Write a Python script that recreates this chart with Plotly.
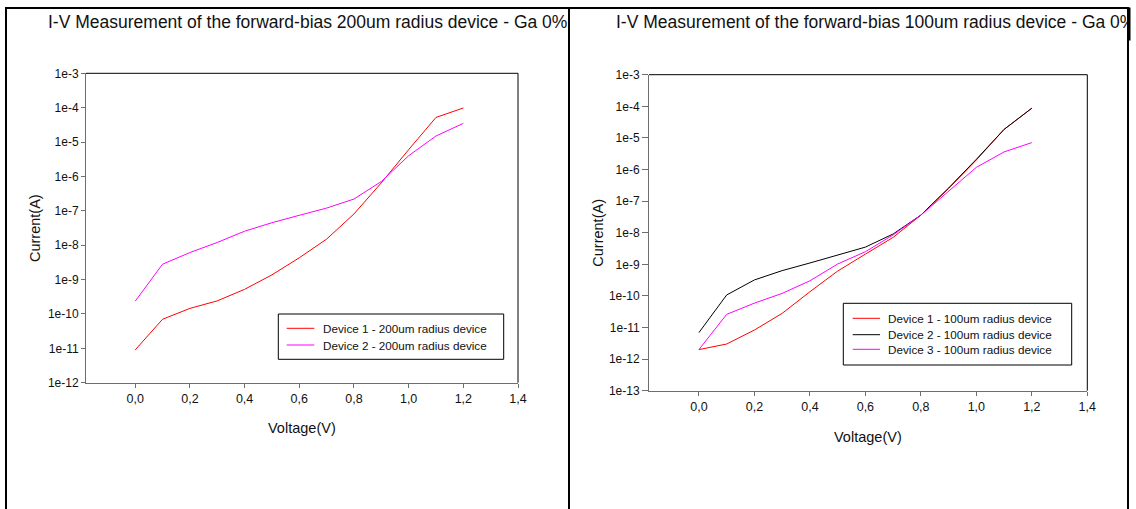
import plotly.graph_objects as go

W, H = 1136, 509

# ---------------- data ----------------
voltage = [0.0, 0.1, 0.2, 0.3, 0.4, 0.5, 0.6, 0.7, 0.8, 0.9, 1.0, 1.1, 1.2]

# 200um radius devices (left chart)
dev1_200 = [9.0e-12, 7.0e-11, 1.45e-10, 2.4e-10, 5.2e-10, 1.37e-9, 4.3e-9, 1.5e-8, 8.1e-8, 6.5e-7, 6.0e-6, 5.2e-5, 9.8e-5]
dev2_200 = [2.35e-10, 2.8e-9, 6.1e-9, 1.2e-8, 2.55e-8, 4.5e-8, 7.4e-8, 1.2e-7, 2.2e-7, 7.1e-7, 4.0e-6, 1.5e-5, 3.5e-5]

# 100um radius devices (right chart)
dev1_100 = [2.0e-12, 3.0e-12, 8.3e-12, 2.8e-11, 1.35e-10, 6.1e-10, 2.1e-9, 7.1e-9, 3.6e-8, 2.5e-7, 2.0e-6, 1.86e-5, 8.7e-5]
dev2_100 = [6.9e-12, 1.07e-10, 3.2e-10, 6.3e-10, 1.1e-9, 1.95e-9, 3.5e-9, 9.1e-9, 3.6e-8, 2.6e-7, 2.1e-6, 1.86e-5, 8.7e-5]
dev3_100 = [2.0e-12, 2.6e-11, 5.9e-11, 1.2e-10, 3.0e-10, 1.02e-9, 2.5e-9, 8.5e-9, 3.6e-8, 2.1e-7, 1.17e-6, 3.6e-6, 7.1e-6]

x_ticks = [0.0, 0.2, 0.4, 0.6, 0.8, 1.0, 1.2, 1.4]
x_ticktext = ["0,0", "0,2", "0,4", "0,6", "0,8", "1,0", "1,2", "1,4"]
left_y_exp = list(range(-12, -2))
right_y_exp = list(range(-13, -2))

titles = ["I-V Measurement of the forward-bias 200um radius device - Ga 0%",
          "I-V Measurement of the forward-bias 100um radius device - Ga 0%"]
left_names = ["Device 1 - 200um radius device", "Device 2 - 200um radius device"]
right_names = ["Device 1 - 100um radius device", "Device 2 - 100um radius device",
               "Device 3 - 100um radius device"]
RED, MAG, BLK = "#ff0000", "#ff00ff", "#000000"

FONT = "Arial, Liberation Sans, sans-serif"
AXC = "#6e6e6e"


def px(x):
    return x / W


def py(y):
    return 1 - y / H


fig = go.Figure()

left_series = [(dev1_200, RED, left_names[0]), (dev2_200, MAG, left_names[1])]
right_series = [(dev1_100, RED, right_names[0]), (dev2_100, BLK, right_names[1]),
                (dev3_100, MAG, right_names[2])]

for vals, col, name in left_series:
    fig.add_trace(go.Scatter(x=voltage, y=vals, mode="lines", name=name,
                             line=dict(color=col, width=1), xaxis="x", yaxis="y",
                             showlegend=False))
for vals, col, name in right_series:
    fig.add_trace(go.Scatter(x=voltage, y=vals, mode="lines", name=name,
                             line=dict(color=col, width=1), xaxis="x2", yaxis="y2",
                             showlegend=False))


def xaxis_cfg(domain, anchor):
    return dict(domain=domain, anchor=anchor, range=[-0.18, 1.4], tickvals=x_ticks,
                ticktext=x_ticktext, ticks="outside", ticklen=4, tickcolor=AXC,
                showline=True, linecolor=AXC, linewidth=1, showgrid=False,
                zeroline=False, automargin=False,
                tickfont=dict(family=FONT, size=12.5, color="#111"))


def yaxis_cfg(domain, anchor, exps, ticklen):
    return dict(domain=domain, anchor=anchor, type="log", range=[exps[0], exps[-1]],
                tickvals=[10.0 ** e for e in exps], ticktext=["1e%d" % e for e in exps],
                ticks="outside", ticklen=ticklen, tickcolor=AXC, showline=True,
                linecolor=AXC, linewidth=1, showgrid=False, zeroline=False,
                automargin=False, tickfont=dict(family=FONT, size=12, color="#111"))


L = dict(x0=86, x1=518, y0=73.3, y1=382.7)
R = dict(x0=649, x1=1087.3, y0=74.7, y1=390.7)

fig.update_layout(
    width=W, height=H, margin=dict(l=0, r=0, t=0, b=0),
    paper_bgcolor="white", plot_bgcolor="white", showlegend=False,
    xaxis=xaxis_cfg([px(L["x0"]), px(L["x1"])], "y"),
    yaxis=yaxis_cfg([py(L["y1"]), py(L["y0"])], "x", left_y_exp, 4),
    xaxis2=xaxis_cfg([px(R["x0"]), px(R["x1"])], "y2"),
    yaxis2=yaxis_cfg([py(R["y1"]), py(R["y0"])], "x2", right_y_exp, 6),
)

shapes = []
# black top & right frame of each plot area
for xr, yr in (("x domain", "y domain"), ("x2 domain", "y2 domain")):
    shapes.append(dict(type="line", xref=xr, yref=yr, x0=0, x1=1, y0=1, y1=1,
                       line=dict(color="black", width=1)))
    shapes.append(dict(type="line", xref=xr, yref=yr, x0=1, x1=1, y0=0, y1=1,
                       line=dict(color="black", width=1)))

# outer panel borders
for xb in (6, 569, 1128):
    shapes.append(dict(type="line", xref="paper", yref="paper", x0=px(xb), x1=px(xb),
                       y0=py(7), y1=py(H + 2), line=dict(color="black", width=2)))
shapes.append(dict(type="line", xref="paper", yref="paper", x0=px(5), x1=px(1129),
                   y0=py(8), y1=py(8), line=dict(color="black", width=2)))

annotations = []


def legend(box, sample_x, text_x, rows, items):
    shapes.append(dict(type="rect", xref="paper", yref="paper", x0=px(box[0]), x1=px(box[1]),
                       y0=py(box[3]), y1=py(box[2]), line=dict(color="black", width=1),
                       fillcolor="white"))
    for yy, (vals, col, name) in zip(rows, items):
        shapes.append(dict(type="line", xref="paper", yref="paper", x0=px(sample_x[0]),
                           x1=px(sample_x[1]), y0=py(yy), y1=py(yy),
                           line=dict(color=col, width=1)))
        annotations.append(dict(text=name, xref="paper", yref="paper", x=px(text_x), y=py(yy),
                                xanchor="left", yanchor="middle", showarrow=False,
                                font=dict(family=FONT, size=11.7, color="#111")))


legend((278.3, 503.7, 314, 359.3), (286.7, 314.3), 320.5, [328.3, 345], left_series)
legend((843.3, 1071.7, 303.3, 365), (852.7, 880), 886, [318.3, 334.7, 349.3], right_series)

# titles
annotations.append(dict(text=titles[0], xref="paper", yref="paper", x=px(46), y=py(22),
                        xanchor="left", yanchor="middle", showarrow=False,
                        font=dict(family=FONT, size=17.5, color="#111")))
annotations.append(dict(text=titles[1], xref="paper", yref="paper", x=px(614), y=py(22),
                        xanchor="left", yanchor="middle", showarrow=False,
                        font=dict(family=FONT, size=17.5, color="#111")))
# clip the overflowing right title at the panel border
annotations.append(dict(text=" ", xref="paper", yref="paper", x=px(1129), y=py(22),
                        xanchor="left", yanchor="middle", showarrow=False, width=10,
                        height=30, bgcolor="white", borderpad=0))
annotations.append(dict(text=" ", xref="paper", yref="paper", x=px(1127), y=py(24),
                        xanchor="left", yanchor="middle", showarrow=False, width=2,
                        height=32, bgcolor="black", borderpad=0))

# axis titles
for cx, cy, t, ang in ((302, 428, "Voltage(V)", 0), (35, 228, "Current(A)", -90),
                       (868, 437, "Voltage(V)", 0), (598, 232.7, "Current(A)", -90)):
    annotations.append(dict(text=t, xref="paper", yref="paper", x=px(cx), y=py(cy),
                            xanchor="center", yanchor="middle", showarrow=False,
                            textangle=ang, font=dict(family=FONT, size=14.5, color="#111")))

fig.update_layout(shapes=shapes, annotations=annotations)
fig.write_html("out.html")
